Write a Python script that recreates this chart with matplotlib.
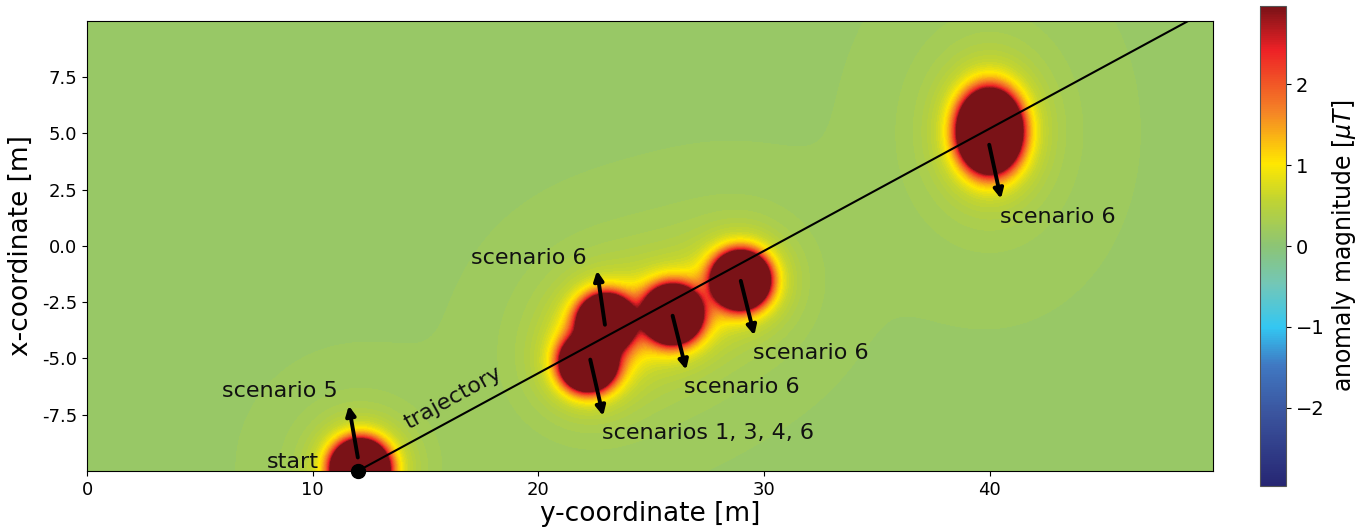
import numpy as np
import matplotlib
matplotlib.use("Agg")
import matplotlib.pyplot as plt
from matplotlib.colors import LinearSegmentedColormap, Normalize
from matplotlib.cm import ScalarMappable

# Magnetic sources: centre (y, x), peak strength, shape factors and weak halo
src_y = [12.1, 23.0, 22.2, 25.95, 28.97, 40.0]
src_x = [-9.9, -3.4, -5.2, -3.04, -1.52, 5.1]
src_amp = [8.8, 7.0, 7.0, 8.3, 8.3, 13.0]
src_sy = [1.0, 1.0, 1.0, 1.0, 1.0, 1.0]
src_sx = [1.0, 1.0, 1.0, 1.0, 1.0, 1.3]
halo_amp = [0.08, 0.07, 0.07, 0.07, 0.07, 0.09]
halo_width = [2.5, 2.8, 2.8, 2.8, 2.8, 3.2]
background = 0.15

# Scenario arrows: tail (y, x) -> tip (y, x)
arrow_tail_y = [12.0, 22.95, 22.3, 25.95, 28.97, 39.98]
arrow_tail_x = [-9.4, -3.5, -5.05, -3.1, -1.55, 4.5]
arrow_tip_y = [11.6, 22.6, 22.87, 26.55, 29.57, 40.5]
arrow_tip_x = [-7.1, -1.1, -7.55, -5.5, -3.97, 2.1]

labels = ["scenario 5", "scenario 6", "scenarios 1, 3, 4, 6",
          "scenario 6", "scenario 6", "scenario 6"]
label_y = [6.0, 17.0, 22.8, 26.45, 29.5, 40.45]
label_x = [-6.45, -0.55, -8.3, -6.25, -4.75, 1.3]

# Vehicle trajectory
traj_y = [12.0, 48.8]
traj_x = [-10.0, 10.0]

vmin, vmax = -2.97, 2.97

cmap = LinearSegmentedColormap.from_list(
    "anomaly",
    [
        (0.00, (0.15, 0.15, 0.45)),
        (0.15, (0.23, 0.33, 0.62)),
        (0.25, (0.25, 0.47, 0.76)),
        (0.33, (0.20, 0.78, 0.95)),
        (0.42, (0.45, 0.78, 0.72)),
        (0.50, (0.55, 0.77, 0.46)),
        (0.595, (0.75, 0.83, 0.20)),
        (0.672, (1.00, 0.91, 0.00)),
        (0.78, (0.96, 0.52, 0.15)),
        (0.91, (0.93, 0.13, 0.15)),
        (1.00, (0.48, 0.07, 0.09)),
    ],
)
cmap.set_over((0.48, 0.07, 0.09))
cmap.set_under((0.15, 0.15, 0.45))

yy = np.linspace(0, 49.9, 1000)
xx = np.linspace(-10, 10, 420)
Y, X = np.meshgrid(yy, xx)
field = np.full_like(Y, background)
for cy, cx, a, sy, sx, ha, hw in zip(src_y, src_x, src_amp, src_sy, src_sx,
                                     halo_amp, halo_width):
    rho2 = ((Y - cy) / sy) ** 2 + ((X - cx) / sx) ** 2
    field += a / (rho2 + 0.05) ** 2
    field += ha * np.exp(-rho2 / (2 * hw ** 2))

fig = plt.figure(figsize=(13.71, 5.31), dpi=100)
ax = fig.add_axes([0.0635, 0.113, 0.8213, 0.8475])
cax = fig.add_axes([0.919, 0.0847, 0.019, 0.904])

levels = np.linspace(vmin, vmax, 90)
ax.contourf(Y, X, field, levels=levels, cmap=cmap, extend="both")

ax.plot(traj_y, traj_x, color="black", lw=1.5)
ax.plot([traj_y[0]], [traj_x[0]], "o", color="black", ms=10, clip_on=False, zorder=5)

for ty, tx, hy, hx in zip(arrow_tail_y, arrow_tail_x, arrow_tip_y, arrow_tip_x):
    ax.annotate("", xy=(hy, hx), xytext=(ty, tx),
                arrowprops=dict(arrowstyle="-|>", color="black", lw=2.8,
                                mutation_scale=14, shrinkA=0, shrinkB=0))

for txt, ly, lx in zip(labels, label_y, label_x):
    ax.text(ly, lx, txt, fontsize=16, ha="left", va="center", color="#111111")

ax.text(10.25, -9.6, "start", fontsize=16, ha="right", va="center", color="#111111")
ax.text(16.2, -6.75, "trajectory", fontsize=16, ha="center", va="center",
        rotation=29, rotation_mode="anchor", color="#111111")

ax.set_xlim(0, 49.9)
ax.set_ylim(-10, 10)
ax.set_xticks([0, 10, 20, 30, 40])
ax.set_yticks([-7.5, -5.0, -2.5, 0.0, 2.5, 5.0, 7.5])
ax.set_yticklabels(["-7.5", "-5.0", "-2.5", "0.0", "2.5", "5.0", "7.5"])
ax.tick_params(labelsize=13)
ax.set_xlabel("y-coordinate [m]", fontsize=19, labelpad=2)
ax.set_ylabel("x-coordinate [m]", fontsize=19, labelpad=6)

sm = ScalarMappable(norm=Normalize(vmin, vmax), cmap=cmap)
cb = fig.colorbar(sm, cax=cax)
cb.set_ticks([-2, -1, 0, 1, 2])
cb.ax.tick_params(labelsize=14)
cb.set_label(r"anomaly magnitude [$\mu T$]", fontsize=17)
cb.outline.set_edgecolor("#555555")

fig.savefig("out.png", dpi=100)
